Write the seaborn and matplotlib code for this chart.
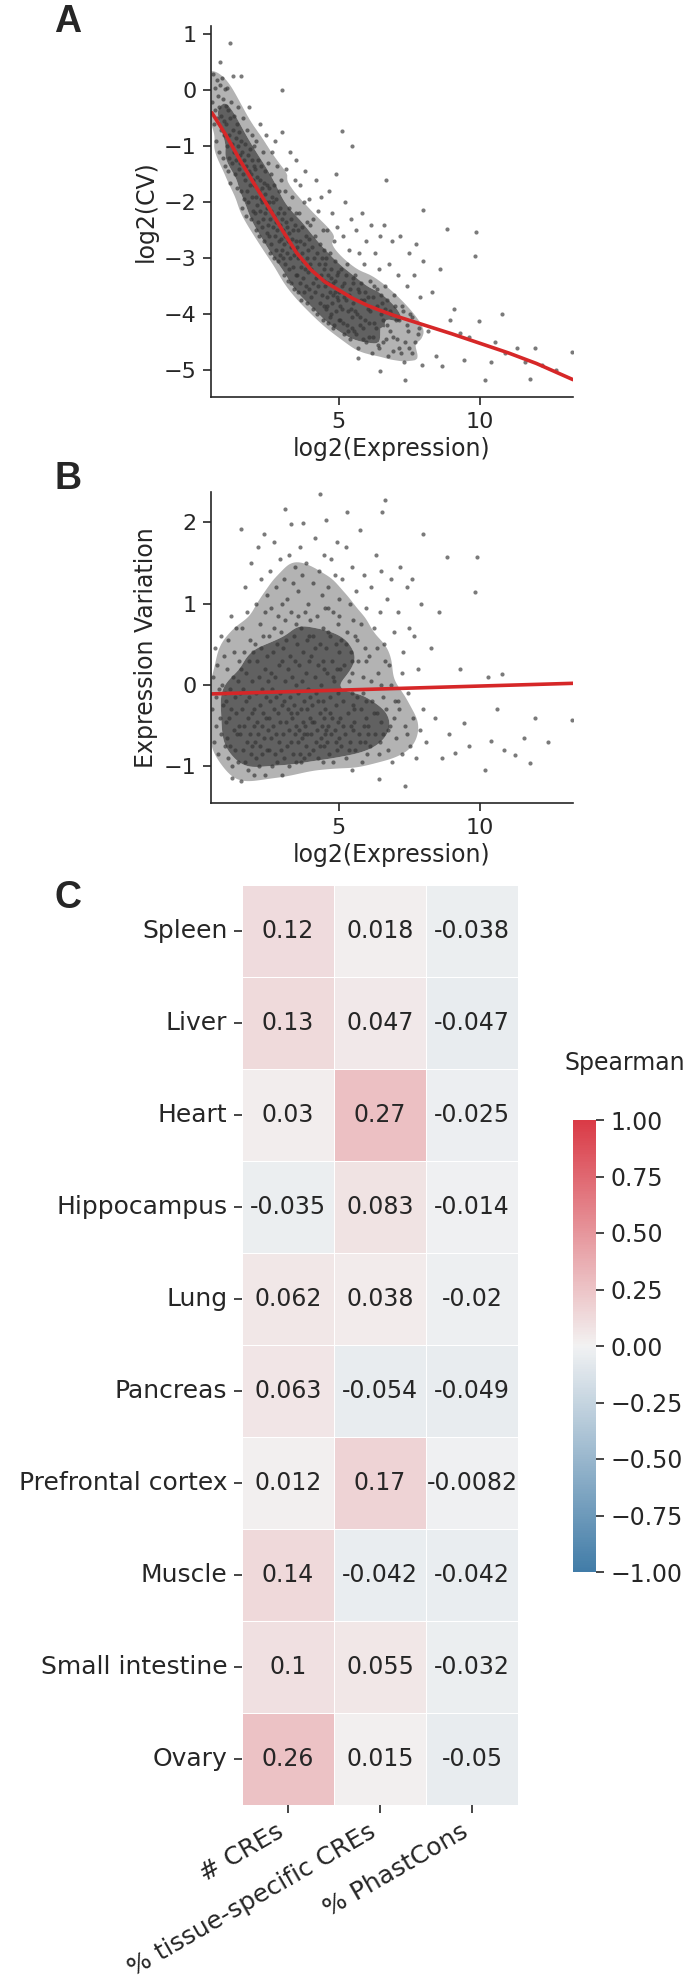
import numpy as np
import pandas as pd
import seaborn as sns
import matplotlib as mpl
import matplotlib.pyplot as plt

# A: log2(expression) vs log2(CV)
pts_a = [
    (0.52,-0.2),(0.55,0.3),(0.58,-0.6),(0.6,0.05),(0.62,-0.35),(0.65,-0.9),(0.68,0.18),(0.7,-0.5),(0.72,-0.1),(0.75,-1.1),(0.77,-0.3),(0.8,0.1),(0.82,-0.7),(0.84,-0.45),(0.86,0.22),(0.88,-1.2),(0.9,-0.15),(0.92,-0.8),(0.94,-0.55),(0.96,0.02),(0.98,-1.35),(0.99,-0.28),(1.16,0.85),(0.78,0.51),
    (1.01,-0.6),(1.03,-1.0),(1.05,0.05),(1.07,-1.45),(1.09,-0.35),(1.1,-0.8),(1.12,-1.2),(1.14,-0.5),(1.16,-1.65),(1.18,-0.2),(1.2,-0.95),(1.22,-1.3),(1.24,-0.7),(1.26,0.25),(1.28,-1.1),(1.3,-0.45),(1.32,-1.5),(1.34,-0.85),(1.36,-1.25),(1.38,-0.6),(1.4,-1.75),(1.42,-1.0),(1.44,-0.3),(1.46,-1.4),(1.48,-0.75),(1.49,-1.15),
    (1.51,-1.3),(1.53,-0.9),(1.54,-1.8),(1.55,0.26),(1.56,-1.1),(1.58,-2.1),(1.6,-0.5),(1.61,-1.5),(1.63,-1.25),(1.65,-1.95),(1.66,-0.95),(1.68,-1.6),(1.7,-2.25),(1.72,-1.35),(1.73,-0.7),(1.75,-1.8),(1.77,-1.15),(1.79,-2.0),(1.8,-1.45),(1.82,-0.3),(1.84,-1.7),(1.86,-1.05),(1.88,-2.3),(1.89,-1.5),(1.91,-1.25),(1.93,-1.9),(1.94,-0.8),(1.96,-1.6),(1.97,-2.15),(1.98,-1.35),(1.99,-1.0),
    (2.01,-1.7),(2.02,-2.2),(2.04,-1.4),(2.05,-2.5),(2.07,-1.9),(2.08,-0.9),(2.1,-2.05),(2.11,-1.55),(2.13,-2.35),(2.14,-1.25),(2.16,-1.8),(2.17,-2.6),(2.19,-1.6),(2.2,-0.6),(2.22,-2.15),(2.23,-1.95),(2.25,-1.35),(2.26,-2.45),(2.28,-1.75),(2.29,-2.0),(2.31,-1.1),(2.32,-2.3),(2.34,-1.65),(2.35,-2.7),(2.37,-1.85),(2.38,-1.45),(2.4,-2.2),(2.41,-0.8),(2.43,-2.0),(2.44,-2.55),(2.46,-1.7),(2.47,-2.1),(2.48,-1.3),(2.49,-2.4),
    (2.51,-2.0),(2.52,-2.6),(2.54,-1.75),(2.55,-2.3),(2.57,-2.9),(2.58,-1.5),(2.6,-2.15),(2.61,-2.75),(2.63,-1.9),(2.64,-1.1),(2.66,-2.45),(2.67,-2.0),(2.69,-3.0),(2.7,-2.25),(2.72,-1.7),(2.73,-2.6),(2.75,-0.9),(2.76,-2.35),(2.78,-2.85),(2.79,-1.95),(2.81,-2.5),(2.82,-1.35),(2.84,-2.2),(2.85,-3.05),(2.87,-2.7),(2.88,-1.8),(2.9,-2.4),(2.91,-2.95),(2.93,-2.1),(2.94,-1.6),(2.96,-2.65),(2.97,-2.3),(2.98,-0.75),(2.99,-2.85),(3.0,0.0),
    (3.01,-2.5),(3.02,-3.0),(3.04,-2.2),(3.05,-2.75),(3.07,-3.3),(3.08,-1.8),(3.1,-2.6),(3.11,-3.1),(3.13,-2.35),(3.14,-1.4),(3.16,-2.9),(3.17,-2.45),(3.19,-3.4),(3.2,-2.7),(3.22,-2.1),(3.23,-3.2),(3.25,-2.55),(3.26,-1.1),(3.28,-3.0),(3.29,-2.8),(3.31,-2.3),(3.32,-3.45),(3.34,-2.65),(3.35,-1.9),(3.37,-3.15),(3.38,-2.5),(3.4,-2.95),(3.41,-3.55),(3.43,-2.4),(3.44,-1.6),(3.46,-2.85),(3.47,-3.3),(3.48,-2.2),(3.49,-2.7),(3.5,-1.25),
    (3.51,-2.8),(3.53,-3.3),(3.54,-2.5),(3.56,-3.6),(3.57,-3.0),(3.59,-2.2),(3.61,-3.45),(3.62,-2.7),(3.64,-1.7),(3.65,-3.15),(3.67,-3.75),(3.68,-2.9),(3.7,-2.45),(3.72,-3.35),(3.73,-3.05),(3.75,-2.0),(3.76,-3.6),(3.78,-2.75),(3.8,-3.2),(3.81,-1.45),(3.83,-2.6),(3.84,-3.5),(3.86,-3.0),(3.87,-2.35),(3.89,-3.8),(3.9,-2.85),(3.92,-3.25),(3.93,-1.95),(3.95,-3.55),(3.96,-2.65),(3.98,-3.1),(3.99,-2.4),
    (4.01,-3.2),(4.03,-3.7),(4.05,-2.8),(4.07,-3.45),(4.09,-2.3),(4.1,-3.9),(4.12,-3.0),(4.14,-3.6),(4.16,-2.6),(4.18,-1.6),(4.2,-3.35),(4.22,-4.0),(4.24,-2.9),(4.26,-3.5),(4.28,-2.15),(4.3,-3.1),(4.32,-3.8),(4.34,-2.75),(4.36,-3.3),(4.38,-1.9),(4.4,-3.65),(4.42,-3.0),(4.44,-4.1),(4.45,-2.5),(4.46,-3.4),(4.47,-3.85),(4.48,-2.85),(4.49,-3.2),
    (4.51,-3.5),(4.53,-3.9),(4.55,-3.0),(4.57,-3.7),(4.59,-2.5),(4.61,-4.15),(4.63,-3.3),(4.65,-1.8),(4.67,-3.6),(4.69,-2.9),(4.71,-4.0),(4.73,-3.2),(4.75,-2.2),(4.77,-3.8),(4.79,-3.45),(4.81,-4.25),(4.83,-2.7),(4.85,-3.6),(4.87,-3.05),(4.89,-1.5),(4.91,-3.95),(4.93,-3.3),(4.95,-2.45),(4.97,-3.75),(4.99,-4.1),
    (4.52,-3.1),(4.58,-3.85),(4.62,-3.45),(4.68,-4.05),(4.72,-3.35),(4.78,-3.65),(4.84,-4.2),(4.88,-3.4),(4.92,-3.7),(4.98,-3.25),
    (5.02,-3.6),(5.05,-4.1),(5.08,-3.2),(5.1,-0.73),(5.12,-3.9),(5.15,-2.6),(5.18,-4.35),(5.2,-3.45),(5.23,-2.0),(5.25,-3.75),(5.28,-4.2),(5.3,-3.1),(5.33,-3.95),(5.35,-2.85),(5.38,-4.45),(5.4,-3.55),(5.42,-2.3),(5.45,-0.99),(5.47,-4.05),(5.49,-3.35),
    (5.04,-3.85),(5.1,-3.5),(5.14,-4.15),(5.2,-3.7),(5.26,-3.3),(5.32,-4.3),(5.36,-3.65),(5.44,-3.9),(5.48,-4.25),(5.5,-3.45),
    (5.52,-3.8),(5.55,-4.3),(5.58,-3.3),(5.61,-2.5),(5.64,-4.0),(5.67,-4.6),(5.69,-4.79),(5.7,-3.6),(5.73,-2.9),(5.76,-4.2),(5.79,-3.45),(5.82,-2.2),(5.85,-4.45),(5.88,-3.75),(5.91,-3.1),(5.94,-4.1),(5.97,-2.7),
    (5.56,-3.95),(5.62,-4.35),(5.68,-3.55),(5.74,-4.05),(5.8,-3.75),(5.86,-4.25),(5.92,-3.6),(5.98,-4.5),
    (6.02,-3.9),(6.06,-4.4),(6.1,-3.4),(6.14,-2.4),(6.18,-4.7),(6.22,-3.7),(6.26,-4.15),(6.3,-2.9),(6.34,-3.55),(6.38,-4.55),(6.42,-3.2),(6.45,-2.6),(6.47,-5.02),(6.49,-4.0),
    (6.04,-3.7),(6.08,-4.15),(6.12,-3.95),(6.2,-4.4),(6.24,-3.5),(6.32,-4.25),(6.36,-3.85),(6.44,-4.6),
    (6.52,-3.8),(6.56,-4.5),(6.6,-2.4),(6.64,-3.5),(6.66,-1.61),(6.7,-4.2),(6.74,-4.75),(6.78,-3.1),(6.83,-3.95),(6.88,-2.7),(6.93,-4.4),(6.97,-3.65),
    (6.5,-3.65),(6.58,-4.1),(6.62,-3.9),(6.68,-4.45),(6.72,-3.75),(6.8,-4.3),(6.86,-4.0),(6.92,-4.65),(6.98,-3.85),
    (7.03,-4.1),(7.08,-3.3),(7.13,-4.6),(7.18,-2.6),(7.24,-3.85),(7.3,-4.85),(7.36,-5.17),(7.4,-3.5),(7.45,-4.3),(7.49,-2.9),
    (7.06,-4.45),(7.12,-4.1),(7.2,-4.7),(7.26,-3.95),(7.34,-4.5),(7.42,-4.2),
    (7.54,-4.0),(7.6,-4.7),(7.66,-3.3),(7.72,-2.75),(7.8,-4.35),(7.87,-3.7),(7.94,-4.9),(7.98,-3.05),
    (7.5,-4.6),(7.58,-4.05),(7.7,-4.5),(7.85,-4.25),
    (8.0,-2.14),(8.15,-4.3),(8.3,-3.6),(8.45,-4.75),(8.6,-3.2),(8.66,-4.93),(8.84,-2.48),(8.95,-4.1),
    (9.1,-3.9),(9.28,-4.34),(9.44,-4.82),(9.6,-4.4),(9.83,-2.96),(9.87,-2.54),(9.98,-4.12),
    (10.17,-5.17),(10.4,-4.85),(10.55,-4.5),(10.77,-4.0),(10.9,-4.7),
    (11.3,-4.6),(11.6,-4.85),(11.78,-5.15),(11.94,-4.61),(12.2,-4.9),(12.7,-5.0),(13.27,-4.67),
]

# lowess trend in A
trend_a_x = [0.5, 1.0, 1.5, 2.0, 2.5, 3.0, 3.5, 4.0, 4.5, 5.0, 5.5, 6.0, 6.5, 7.0, 8.0, 9.0, 10.0, 11.0, 12.0, 13.3]
trend_a_y = [-0.4, -0.8, -1.25, -1.67, -2.08, -2.5, -2.9, -3.2, -3.42, -3.57, -3.72, -3.84, -3.94, -4.03, -4.19, -4.35, -4.52, -4.69, -4.88, -5.17]

# B: log2(expression) vs expression variation
pts_b = [
    (0.52,-0.3),(0.55,0.1),(0.58,-0.7),(0.6,0.45),(0.63,-0.15),(0.66,-0.5),(0.69,0.25),(0.72,-0.85),(0.75,-0.05),(0.78,-0.4),(0.81,0.6),(0.84,-0.6),(0.87,0.0),(0.9,-0.25),(0.92,0.35),(0.95,-0.75),(0.97,-0.1),(0.99,-0.45),
    (1.01,-0.2),(1.03,-0.65),(1.05,0.2),(1.07,-0.9),(1.09,0.55),(1.11,-0.4),(1.13,-0.05),(1.15,-0.75),(1.17,0.85),(1.19,-0.3),(1.21,-1.0),(1.23,-1.14),(1.25,0.1),(1.27,-0.55),(1.29,0.4),(1.31,-0.15),(1.33,-0.8),(1.35,0.7),(1.37,-0.35),(1.39,-0.6),(1.41,0.05),(1.43,-0.95),(1.45,0.3),(1.47,-0.5),(1.49,-0.1),
    (1.51,-0.6),(1.52,1.91),(1.53,0.2),(1.55,-1.18),(1.56,-0.3),(1.58,0.7),(1.6,-0.8),(1.61,-0.05),(1.63,0.4),(1.65,-0.5),(1.66,1.2),(1.68,-0.95),(1.7,-0.2),(1.72,0.15),(1.73,-0.7),(1.75,0.9),(1.77,-0.4),(1.79,-1.05),(1.8,0.3),(1.82,-0.15),(1.84,-0.6),(1.86,0.55),(1.88,-0.85),(1.89,1.5),(1.91,-0.35),(1.93,0.05),(1.94,-0.75),(1.96,0.4),(1.98,-0.5),(1.99,-1.1),
    (2.01,-0.3),(2.02,0.5),(2.04,-0.7),(2.05,1.0),(2.07,-0.1),(2.08,-0.9),(2.1,0.3),(2.11,-0.45),(2.13,1.7),(2.14,-0.6),(2.16,0.1),(2.17,-1.0),(2.19,0.75),(2.2,-0.25),(2.22,-0.75),(2.23,0.45),(2.25,1.3),(2.26,-0.5),(2.28,-0.05),(2.29,-0.85),(2.31,0.6),(2.32,-0.35),(2.34,1.85),(2.35,-0.65),(2.37,0.2),(2.38,-1.1),(2.4,0.9),(2.41,-0.4),(2.43,-0.15),(2.44,0.35),(2.46,-0.8),(2.47,1.1),(2.48,-0.55),(2.49,0.05),
    (2.51,-0.4),(2.52,0.6),(2.54,-0.8),(2.55,1.4),(2.57,-0.2),(2.58,0.15),(2.6,-0.65),(2.61,0.95),(2.63,-0.05),(2.64,-1.0),(2.66,0.4),(2.67,-0.5),(2.69,1.75),(2.7,-0.3),(2.72,0.7),(2.73,-0.85),(2.75,0.1),(2.76,-0.6),(2.78,1.2),(2.79,-0.15),(2.81,0.5),(2.82,-0.95),(2.84,-0.35),(2.85,0.85),(2.87,-0.7),(2.88,0.25),(2.9,1.55),(2.91,-0.45),(2.93,-0.1),(2.94,0.65),(2.96,-0.8),(2.97,0.3),(2.98,-1.1),(2.99,1.0),(3.0,-0.25),
    (3.01,0.45),(3.02,-0.6),(3.04,1.3),(3.05,-0.2),(3.07,-0.9),(3.08,0.8),(3.1,0.05),(3.11,2.16),(3.13,-0.45),(3.14,0.55),(3.16,-0.75),(3.17,1.05),(3.19,-0.3),(3.2,0.2),(3.22,-1.0),(3.23,1.6),(3.25,-0.55),(3.26,0.35),(3.28,-0.15),(3.29,0.9),(3.31,1.98),(3.32,-0.7),(3.34,0.1),(3.35,-0.4),(3.37,1.25),(3.38,-0.85),(3.4,0.6),(3.41,-0.25),(3.43,-0.6),(3.44,0.3),(3.46,1.45),(3.47,-0.5),(3.48,0.0),(3.49,-0.95),(3.5,0.75),
    (3.51,-0.35),(3.53,0.5),(3.54,-0.7),(3.56,1.15),(3.57,-0.1),(3.59,-0.55),(3.6,0.25),(3.62,1.7),(3.63,-0.85),(3.65,0.7),(3.66,-0.3),(3.68,0.05),(3.69,-0.65),(3.71,1.35),(3.72,-0.45),(3.73,1.99),(3.74,0.4),(3.76,-0.2),(3.77,-0.9),(3.79,0.9),(3.8,-0.5),(3.82,0.15),(3.83,-0.75),(3.85,1.5),(3.86,-0.3),(3.88,0.55),(3.89,-0.6),(3.91,-0.05),(3.92,1.0),(3.94,-0.85),(3.95,0.3),(3.97,-0.4),(3.98,0.8),(3.99,-0.15),
    (3.55,0.85),(3.75,-0.6),(3.95,0.6),(3.65,-0.95),(3.3,-0.35),
    (4.01,-0.6),(4.03,0.35),(4.05,-0.25),(4.07,1.25),(4.09,-0.8),(4.1,0.6),(4.12,-0.45),(4.14,0.1),(4.16,1.8),(4.18,-0.7),(4.2,-0.1),(4.22,0.85),(4.24,-0.55),(4.26,0.25),(4.28,-0.9),(4.3,1.4),(4.32,-0.35),(4.33,2.35),(4.34,0.5),(4.36,-0.65),(4.38,0.0),(4.4,1.1),(4.42,-0.5),(4.43,-0.95),(4.44,0.7),(4.45,-0.2),(4.46,1.6),(4.47,-0.75),(4.48,0.2),(4.49,-0.4),(4.5,0.95),(4.5,-0.6),
    (4.05,-0.45),(4.15,0.45),(4.25,-0.2),(4.35,-0.75),(4.45,0.3),(4.55,-0.55),(4.6,0.65),(4.7,-0.35),(4.8,0.1),(4.9,-0.7),(4.6,0.95),(5.0,0.85),
    (4.52,-0.3),(4.54,0.45),(4.56,2.03),(4.57,-0.7),(4.59,0.15),(4.61,-0.5),(4.63,1.2),(4.65,-0.85),(4.67,0.6),(4.69,-0.15),(4.71,1.55),(4.73,-0.6),(4.75,0.3),(4.77,-0.4),(4.79,0.9),(4.81,-0.95),(4.83,0.05),(4.85,1.35),(4.87,-0.55),(4.89,0.5),(4.91,-0.25),(4.93,1.75),(4.94,-0.8),(4.95,0.2),(4.96,-0.45),(4.97,0.75),(4.98,-0.1),(4.99,1.05),(5.0,-0.65),(5.0,0.4),
    (5.03,-0.4),(5.06,0.55),(5.09,-0.75),(5.12,1.3),(5.15,-0.2),(5.18,0.25),(5.21,-0.6),(5.24,1.7),(5.27,-0.9),(5.28,2.12),(5.3,0.65),(5.33,-0.35),(5.36,0.05),(5.38,1.0),(5.4,-0.7),(5.42,0.4),(5.44,-0.5),(5.46,1.45),(5.47,-1.05),(5.48,0.15),(5.49,-0.25),(5.5,0.8),(5.5,-0.55),(5.45,-0.1),
    (5.05,0.2),(5.15,-0.5),(5.25,0.5),(5.35,-0.8),(5.45,0.3),(5.55,-0.3),(5.65,0.55),(5.75,-0.7),(5.85,-0.1),(5.95,0.3),
    (5.53,-0.45),(5.56,0.6),(5.59,-0.8),(5.62,1.15),(5.65,-0.15),(5.68,0.3),(5.71,-0.6),(5.74,1.9),(5.77,-0.3),(5.8,0.75),(5.83,-0.95),(5.86,0.1),(5.88,-0.5),(5.9,1.35),(5.92,-0.7),(5.94,0.45),(5.96,-0.2),(5.98,0.95),(5.99,-0.85),(5.97,-0.4),
    (6.03,-0.5),(6.07,0.35),(6.11,-0.75),(6.15,1.2),(6.19,-0.2),(6.23,0.7),(6.27,-0.6),(6.31,1.6),(6.35,-0.35),(6.39,0.15),(6.42,-1.16),(6.44,-0.85),(6.46,0.9),(6.48,-0.45),(6.49,0.0),(6.5,1.4),
    (6.05,-0.6),(6.15,0.05),(6.25,-0.35),(6.35,0.45),(6.45,-0.7),(6.55,-0.15),(6.65,0.3),(6.75,-0.55),(6.85,0.0),(6.95,-0.4),
    (6.52,2.13),(6.55,-0.6),(6.59,0.5),(6.63,2.27),(6.66,-0.3),(6.7,1.05),(6.74,-0.8),(6.78,0.25),(6.82,-0.5),(6.86,1.3),(6.9,-0.95),(6.94,0.65),(6.98,-0.2),
    (7.03,-0.65),(7.08,0.9),(7.13,-0.3),(7.18,1.45),(7.23,-0.85),(7.28,0.4),(7.33,-0.5),(7.36,-1.24),(7.4,1.2),(7.45,-0.1),(7.49,0.7),
    (7.1,-0.2),(7.25,0.15),(7.4,-0.6),
    (7.53,-0.75),(7.58,1.3),(7.63,-0.4),(7.68,0.6),(7.74,-0.9),(7.8,0.2),(7.86,-0.55),(7.92,1.0),(7.98,-0.3),
    (8.0,1.86),(8.1,-0.7),(8.25,0.45),(8.4,-0.4),(8.55,0.9),(8.66,-0.9),(8.84,1.57),(8.9,-0.6),(9.13,-0.84),(9.3,0.2),(9.44,-0.47),(9.6,-0.75),(9.81,1.14),(9.88,1.57),
    (10.17,-1.05),(10.3,0.1),(10.38,-0.69),(10.6,-0.3),(10.77,0.14),(10.84,-0.8),(11.23,-0.86),(11.55,-0.65),(11.78,-0.96),(11.94,-0.4),(12.4,-0.7),(13.27,-0.43),
]

# linear fit in B (ends of the red line)
trend_b_x = [0.5, 13.3]
trend_b_y = [-0.11, 0.02]

# C: Spearman correlations
tissues = ['Spleen', 'Liver', 'Heart', 'Hippocampus', 'Lung', 'Pancreas',
           'Prefrontal cortex', 'Muscle', 'Small intestine', 'Ovary']
features = ['# CREs', '% tissue-specific CREs', '% PhastCons']
n_cres = [0.12, 0.13, 0.03, -0.035, 0.062, 0.063, 0.012, 0.14, 0.1, 0.26]
pct_specific = [0.018, 0.047, 0.27, 0.083, 0.038, -0.054, 0.17, -0.042, 0.055, 0.015]
pct_phastcons = [-0.038, -0.047, -0.025, -0.014, -0.02, -0.049, -0.0082, -0.042, -0.032, -0.05]

sns.set_style('ticks')
plt.rcParams['font.family'] = ['DejaVu Sans']
plt.rcParams['axes.linewidth'] = 1.2
plt.rcParams['xtick.major.width'] = 1.2
plt.rcParams['ytick.major.width'] = 1.2
plt.rcParams['xtick.major.size'] = 6
plt.rcParams['ytick.major.size'] = 6
plt.rcParams['xtick.major.pad'] = 4.5
plt.rcParams['ytick.major.pad'] = 4.5

W, H = 691, 1979
fig = plt.figure(figsize=(W / 100, H / 100), dpi=100)

def box(l, t, r, b):
    return [l / W, 1 - b / H, (r - l) / W, (b - t) / H]

ax_a = fig.add_axes(box(211, 26, 573, 397))
ax_b = fig.add_axes(box(211, 492, 573, 803))
ax_c = fig.add_axes(box(242, 885, 518, 1805))
cax = fig.add_axes(box(573, 1120, 596, 1572))

red = '#d62728'
dot = '#333333'
core = mpl.colors.ListedColormap(['#a0a0a0', '#3a3a3a'])

# dense core of each cloud as a filled density, then the single points on top
df_a = pd.DataFrame(pts_a, columns=['expr', 'cv'])
sns.kdeplot(data=df_a, x='expr', y='cv', ax=ax_a, fill=True, levels=[0.25, 0.45, 1],
            bw_adjust=0.45, cmap=core, alpha=0.8, antialiased=True)
sns.scatterplot(data=df_a, x='expr', y='cv', ax=ax_a, color=dot, s=9, alpha=0.65, linewidth=0)
sns.lineplot(x=trend_a_x, y=trend_a_y, ax=ax_a, color=red, lw=2.6)
ax_a.set_xlim(0.47, 13.3)
ax_a.set_ylim(-5.48, 1.15)
ax_a.set_xticks([5, 10])
ax_a.set_yticks([1, 0, -1, -2, -3, -4, -5])
ax_a.set_xlabel('log2(Expression)', fontsize=17)
ax_a.set_ylabel('log2(CV)', fontsize=17)

df_b = pd.DataFrame(pts_b, columns=['expr', 'var'])
sns.kdeplot(data=df_b, x='expr', y='var', ax=ax_b, fill=True, levels=[0.25, 0.5, 1],
            bw_adjust=0.55, cmap=core, alpha=0.8, antialiased=True)
sns.scatterplot(data=df_b, x='expr', y='var', ax=ax_b, color=dot, s=9, alpha=0.65, linewidth=0)
sns.lineplot(x=trend_b_x, y=trend_b_y, ax=ax_b, color=red, lw=2.6)
ax_b.set_xlim(0.47, 13.3)
ax_b.set_ylim(-1.45, 2.37)
ax_b.set_xticks([5, 10])
ax_b.set_yticks([-1, 0, 1, 2])
ax_b.set_xlabel('log2(Expression)', fontsize=17)
ax_b.set_ylabel('Expression Variation', fontsize=17)

for ax in (ax_a, ax_b):
    sns.despine(ax=ax)
    ax.tick_params(labelsize=16)

corr = pd.DataFrame({features[0]: n_cres, features[1]: pct_specific,
                     features[2]: pct_phastcons}, index=tissues)
cmap = sns.diverging_palette(240, 10, as_cmap=True)
sns.heatmap(corr, ax=ax_c, cbar_ax=cax, cmap=cmap, vmin=-1, vmax=1, annot=True,
            fmt='.2g', linewidths=0.6, linecolor='white', annot_kws={'size': 17})
ax_c.tick_params(labelsize=18)
ax_c.set_xticklabels(features, rotation=30, ha='right')
ax_c.set_yticklabels(tissues, rotation=0)
cax.tick_params(labelsize=17)
cax.set_yticks([1, 0.75, 0.5, 0.25, 0, -0.25, -0.5, -0.75, -1])
cax.set_yticklabels(['1.00', '0.75', '0.50', '0.25', '0.00',
                     '\u22120.25', '\u22120.50', '\u22120.75', '\u22121.00'])
fig.text(565 / W, 1 - 1063 / H, 'Spearman', fontsize=17, ha='left', va='center')

for letter, yy in (('A', 22), ('B', 479), ('C', 898)):
    fig.text(68 / W, 1 - yy / H, letter, fontsize=27, fontweight='bold',
             family='Liberation Sans', ha='center', va='center')

fig.savefig('out.png', dpi=100)
